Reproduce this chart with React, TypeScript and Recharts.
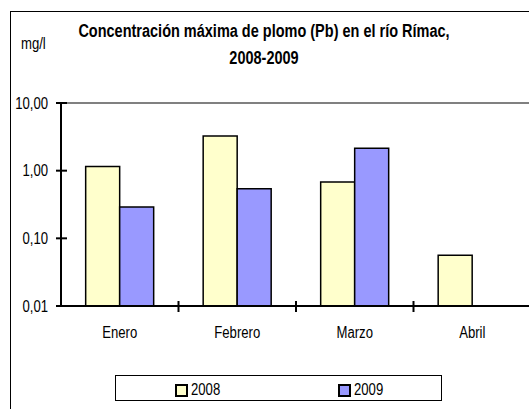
import React from 'react';
import { BarChart, Bar, XAxis, YAxis, ReferenceLine } from 'recharts';

const months = ['Enero', 'Febrero', 'Marzo', 'Abril'];
const lead2008 = [1.15, 3.25, 0.68, 0.056];
const lead2009: (number | null)[] = [0.29, 0.54, 2.15, null];
const yTicks = [0.01, 0.1, 1, 10];

const FONT = "'Liberation Sans', Arial, sans-serif";
const NARROW = 0.82;
const COL_2008 = '#FFFFCC';
const COL_2009 = '#9999FF';

const data = months.map((m, i) => ({ month: m, y2008: lead2008[i], y2009: lead2009[i] }));

// tick between categories, crossing the axis line like the excel original
function MonthTick(props: any) {
  const { x, y, payload, index, visibleTicksCount } = props;
  const band = 470 / 4;
  const ay = y - 8;
  return (
    <g>
      {index > 0 && <line x1={x - band / 2} x2={x - band / 2} y1={ay - 5} y2={ay + 6} stroke="#000" strokeWidth={2} />}
      {index === visibleTicksCount - 1 && <line x1={x + band / 2} x2={x + band / 2} y1={ay - 5} y2={ay + 6} stroke="#000" strokeWidth={2} />}
      <g transform={`translate(${x},${ay + 32}) scale(${NARROW},1)`}>
        <text x={0} y={0} textAnchor="middle" fontFamily={FONT} fontSize={16} fill="#000">
          {payload.value}
        </text>
      </g>
    </g>
  );
}

function ValueTick(props: any) {
  const { x, y, payload } = props;
  const ax = x + 8;
  return (
    <g>
      <line x1={ax - 5} x2={ax + 6} y1={y} y2={y} stroke="#000" strokeWidth={2} />
      <g transform={`translate(${ax - 13},${y + 5.5}) scale(${NARROW},1)`}>
        <text x={0} y={0} textAnchor="end" fontFamily={FONT} fontSize={16} fill="#000">
          {payload.value.toFixed(2).replace('.', ',')}
        </text>
      </g>
    </g>
  );
}

function LegendBox() {
  const item = (color: string, label: string, left: number) => (
    <div style={{ position: 'absolute', left, top: 6, height: 16, display: 'flex', alignItems: 'center' }}>
      <div style={{ width: 9, height: 9, background: color, border: '2px solid #000', marginRight: 3 }} />
      <span style={{ display: 'inline-block', fontFamily: FONT, fontSize: 16, lineHeight: '16px', transform: `scaleX(${NARROW})`, transformOrigin: 'left center' }}>{label}</span>
    </div>
  );
  return (
    <div style={{ position: 'absolute', left: 115, top: 375, width: 327, height: 26, border: '1px solid #000', boxSizing: 'border-box' }}>
      {item(COL_2008, '2008', 59)}
      {item(COL_2009, '2009', 222)}
    </div>
  );
}

export default function App() {
  return (
    <div style={{ position: 'absolute', left: 0, top: 0, width: 529, height: 409, overflow: 'hidden', background: '#fff' }}>
      <div style={{ position: 'absolute', left: 10, top: 11, width: 600, height: 500, borderLeft: '1px solid #000', borderTop: '1px solid #000' }} />
      <div style={{ position: 'absolute', left: 0, top: 18, width: 528, textAlign: 'center', fontFamily: FONT, fontWeight: 'bold', fontSize: 18, lineHeight: '27px', transform: 'scaleX(0.805)', transformOrigin: '264px 0' }}>
        Concentración máxima de plomo (Pb) en el río Rímac,<br />2008-2009
      </div>
      <div style={{ position: 'absolute', left: 21, top: 35, fontFamily: FONT, fontSize: 16, transform: `scaleX(${NARROW})`, transformOrigin: 'left top' }}>mg/l</div>
      <div style={{ position: 'absolute', left: 0, top: 0 }}>
        <BarChart width={545} height={409} data={data} margin={{ top: 103, right: 14, left: 0, bottom: 73 }} barCategoryGap="21%" barGap={0}>
          <ReferenceLine y={10} stroke="#808080" strokeWidth={2} />
          <XAxis dataKey="month" tick={<MonthTick />} tickLine={false} axisLine={{ stroke: '#000', strokeWidth: 2 }} height={30} interval={0} />
          <YAxis scale="log" domain={[0.01, 10]} ticks={yTicks} allowDataOverflow tick={<ValueTick />} tickSize={6} tickLine={false} axisLine={{ stroke: '#000', strokeWidth: 2 }} width={61} />
          <Bar dataKey="y2008" fill={COL_2008} stroke="#000" strokeWidth={1.5} isAnimationActive={false} />
          <Bar dataKey="y2009" fill={COL_2009} stroke="#000" strokeWidth={1.5} isAnimationActive={false} />
        </BarChart>
      </div>
      <LegendBox />
    </div>
  );
}
